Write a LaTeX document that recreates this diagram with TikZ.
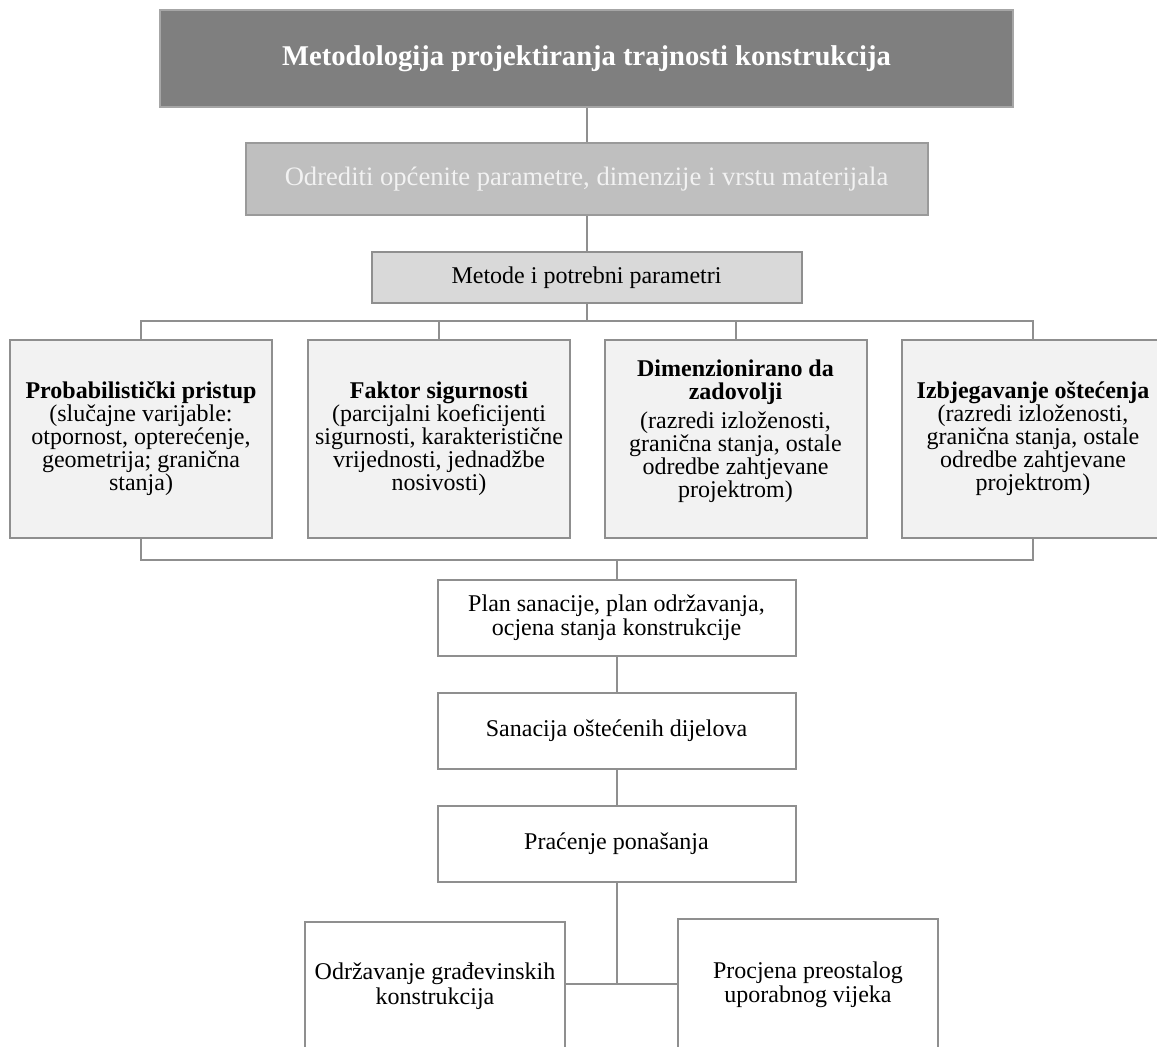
\documentclass[tikz,border=0pt]{standalone}
\usepackage{fontspec}
\setmainfont{Liberation Serif}

\definecolor{edgegray}{HTML}{8F8F8F}
\definecolor{titlefill}{HTML}{7F7F7F}
\definecolor{titleedge}{HTML}{A6A6A6}
\definecolor{paramfill}{HTML}{BFBFBF}
\definecolor{paramedge}{HTML}{9A9A9A}
\definecolor{methfill}{HTML}{D9D9D9}
\definecolor{rowfill}{HTML}{F2F2F2}

\newcommand{\bodyfont}{\fontsize{12pt}{11.5pt}\selectfont}
\newcommand{\stagefont}{\fontsize{12pt}{12.2pt}\selectfont}
\newcommand{\titlefont}{\fontsize{14.3pt}{16pt}\selectfont\bfseries}
\newcommand{\paramfont}{\fontsize{13.3pt}{15pt}\selectfont}

\tikzset{
  box/.style={draw=edgegray, line width=1pt, inner sep=0pt, align=center,
    font=\bodyfont, text=black},
  titlebox/.style={box, draw=titleedge, fill=titlefill, text=white,
    font=\titlefont, minimum width=426.5pt, minimum height=48.5pt},
  parambox/.style={box, draw=paramedge, fill=paramfill, text=rowfill,
    font=\paramfont, minimum width=341pt, minimum height=36pt},
  methbox/.style={box, fill=methfill, minimum width=215pt, minimum height=25.5pt},
  approach/.style={box, fill=rowfill, minimum width=131pt, minimum height=99pt},
  stagebox/.style={box, fill=white, font=\stagefont, minimum width=179pt, minimum height=38pt},
  endbox/.style={box, fill=white, font=\stagefont, minimum width=130pt},
  conn/.style={draw=edgegray, line width=1pt}
}

\begin{document}
\begin{tikzpicture}[x=0.5pt, y=-0.5pt]
  \useasboundingbox (0,0) rectangle (1157,1046);
  \clip (0,0) rectangle (1157,1046);
  \fill[white] (0,0) rectangle (1157,1046);

  % header and general parameters
  \node[titlebox] (title) at (586.5,58.5)
    {Metodologija projektiranja trajnosti konstrukcija};
  \node[parambox] (odr) at (586.5,179)
    {Odrediti općenite parametre, dimenzije i vrstu materijala};
  \node[methbox] (met) at (586.5,277.5) {Metode i potrebni parametri};

  % the four design approaches
  \node[approach] (b1) at (141,439)
    {\textbf{Probabilistički pristup}\\(slučajne varijable:\\otpornost, opterećenje,\\geometrija; granična\\stanja)};
  \node[approach] (b2) at (439,439)
    {\textbf{Faktor sigurnosti}\\(parcijalni koeficijenti\\sigurnosti, karakteristične\\vrijednosti, jednadžbe\\nosivosti)};
  \node[approach, text depth=10.5pt] (b3) at (735.5,439)
    {\textbf{Dimenzionirano da}\\\textbf{zadovolji}\\[3pt](razredi izloženosti,\\granična stanja, ostale\\odredbe zahtjevane\\projektrom)};
  \node[approach] (b4) at (1033,439)
    {\textbf{Izbjegavanje oštećenja}\\(razredi izloženosti,\\granična stanja, ostale\\odredbe zahtjevane\\projektrom)};

  % service-life stages
  \node[stagebox] (plan) at (616.5,617.5)
    {Plan sanacije, plan održavanja,\\ocjena stanja konstrukcije};
  \node[stagebox] (san) at (616.5,731) {Sanacija oštećenih dijelova};
  \node[stagebox] (prac) at (616.5,844) {Praćenje ponašanja};

  \node[endbox, minimum height=64pt] (lb) at (435,986)
    {Održavanje građevinskih\\konstrukcija};
  \node[endbox, minimum height=66pt] (rb) at (808,985)
    {Procjena preostalog\\uporabnog vijeka};

  % bus coordinates
  \coordinate (busT) at (586.5,321);
  \coordinate (busB) at (616.5,560);
  \coordinate (busC) at (618,984);

  % connectors
  \draw[conn] (title.south) -- (odr.north);
  \draw[conn] (odr.south) -- (met.north);
  \draw[conn] (met.south) -- (busT);
  \draw[conn] (b1.north) |- (busT) -| (b4.north);
  \draw[conn] (b2.north) -- (b2.north |- busT);
  \draw[conn] (b3.north) -- (b3.north |- busT);
  \draw[conn] (b1.south) |- (busB) -| (b4.south);
  \draw[conn] (busB) -- (plan.north);
  \draw[conn] (plan.south) -- (san.north);
  \draw[conn] (san.south) -- (prac.north);
  \draw[conn] (prac.south) -- (prac.south |- busC);
  \draw[conn] (lb.east |- busC) -- (rb.west |- busC);
\end{tikzpicture}
\end{document}
